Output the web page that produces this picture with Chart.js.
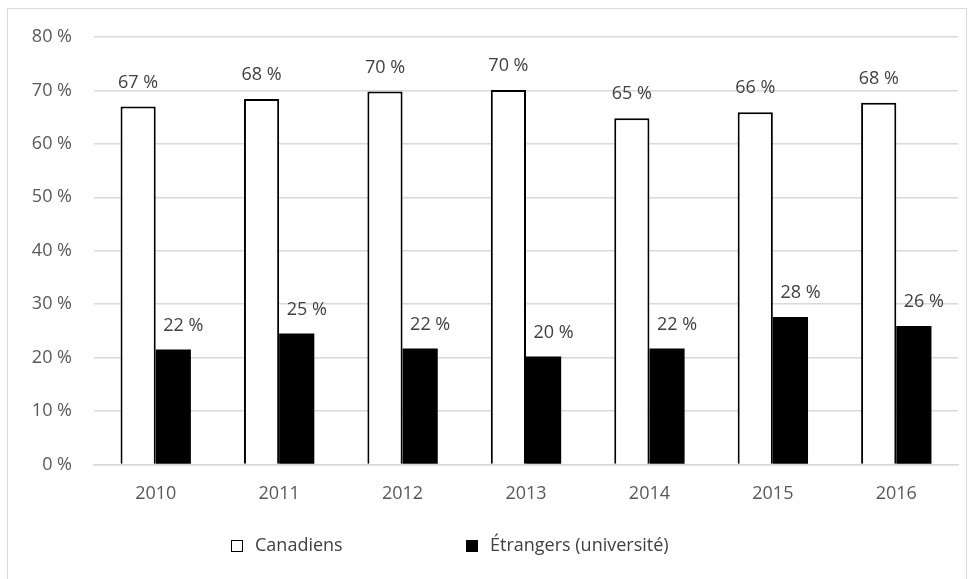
<!DOCTYPE html>
<html>
<head>
<meta charset="utf-8">
<script src="https://cdn.jsdelivr.net/npm/chart.js@4/dist/chart.umd.min.js"></script>
<style>
  html, body { margin: 0; padding: 0; background: #fff; }
  #wrap { position: relative; width: 975px; height: 579px; }
  #frame { position: absolute; left: 7px; top: 8px; width: 960px; height: 575px; border: 1px solid #d9d9d9; box-sizing: border-box; }
  canvas { position: absolute; left: 0; top: 0; }
</style>
</head>
<body>
<div id="wrap">
  <div id="frame"></div>
  <canvas id="chart" width="975" height="579"></canvas>
</div>
<script>
// ---- Data ----
const years      = ['2010', '2011', '2012', '2013', '2014', '2015', '2016']
const canadiens  = [67.0, 68.4, 69.8, 70.1, 64.8, 65.9, 67.7]
const etrangers  = [21.5, 24.5, 21.7, 20.2, 21.7, 27.6, 25.9]
const yTicks     = [0, 10, 20, 30, 40, 50, 60, 70, 80]

const FONT = '"Open Sans", sans-serif'
const FSIZE = 18

// ---- Value labels above bars ----
const valueLabels = {
  id: 'valueLabels',
  afterDatasetsDraw(chart) {
    const ctx = chart.ctx
    ctx.save()
    ctx.font = FSIZE + 'px ' + FONT
    ctx.fillStyle = '#404040'
    ctx.textAlign = 'center'
    ctx.textBaseline = 'middle'
    chart.data.datasets.forEach((ds, i) => {
      const meta = chart.getDatasetMeta(i)
      const dx = i === 0 ? 0 : 10
      meta.data.forEach((bar, j) => {
        ctx.fillText(Math.round(ds.data[j]) + ' %', bar.x + dx, bar.y - 24)
      })
    })
    ctx.restore()
  }
}

// ---- Legend (drawn by hand, wide spacing like the original) ----
const legendX = [231, 466]
const bottomLegend = {
  id: 'bottomLegend',
  afterDraw(chart) {
    const ctx = chart.ctx
    const y = 546, box = 12, gap = 12
    ctx.save()
    ctx.font = FSIZE + 'px ' + FONT
    ctx.textBaseline = 'middle'
    chart.data.datasets.forEach((ds, i) => {
      const x = legendX[i]
      ctx.fillStyle = ds.backgroundColor
      ctx.fillRect(x, y - box / 2, box, box)
      ctx.strokeStyle = '#000000'
      ctx.lineWidth = 1
      ctx.strokeRect(x + 0.5, y - box / 2 + 0.5, box - 1, box - 1)
      ctx.fillStyle = '#404040'
      ctx.fillText(ds.label, x + box + gap, y)
    })
    ctx.restore()
  }
}

new Chart(document.getElementById('chart'), {
  type: 'bar',
  data: {
    labels: years,
    datasets: [
      { label: 'Canadiens', data: canadiens, backgroundColor: '#ffffff', borderColor: '#000000', borderWidth: 2, borderSkipped: 'bottom' },
      { label: 'Étrangers (université)', data: etrangers, backgroundColor: '#000000', borderColor: '#000000', borderWidth: 0 }
    ]
  },
  options: {
    responsive: false,
    animation: false,
    devicePixelRatio: 1,
    categoryPercentage: 0.57,
    barPercentage: 1,
    layout: { padding: { left: 20, right: 17, top: 37, bottom: 63 } },
    plugins: {
      tooltip: { enabled: false },
      legend: { display: false }
    },
    scales: {
      x: {
        grid: { display: false },
        border: { color: '#d9d9d9', width: 1.5 },
        ticks: { color: '#595959', font: { family: FONT, size: FSIZE }, padding: 11 }
      },
      y: {
        min: 0,
        max: 80,
        afterBuildTicks: s => { s.ticks = yTicks.map(v => ({ value: v })) },
        afterFit: s => { s.width = 74 },
        grid: { color: '#d9d9d9', lineWidth: 1.5, drawTicks: false },
        border: { display: false },
        ticks: {
          color: '#595959',
          font: { family: FONT, size: FSIZE },
          padding: 22,
          callback: v => v + ' %'
        }
      }
    }
  },
  plugins: [valueLabels, bottomLegend]
})
</script>
</body>
</html>
